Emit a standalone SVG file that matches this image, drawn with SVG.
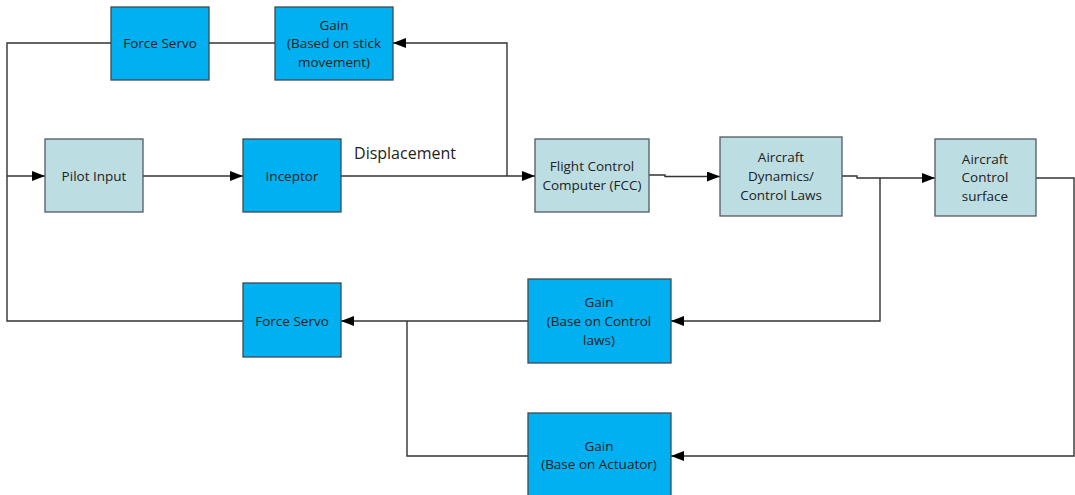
<svg xmlns="http://www.w3.org/2000/svg" width="1075" height="495" viewBox="0 0 1075 495">
<style>
.blue{fill:#00b0f0;stroke:#3f4a52;stroke-width:1.3}
.grey{fill:#bcdee2;stroke:#505a60;stroke-width:1.3}
text{font-family:"Open Sans","Noto Sans","Liberation Sans",sans-serif;font-size:13.5px;fill:#222;text-anchor:middle;dominant-baseline:central}
.w{fill:none;stroke:#333;stroke-width:1.4}
.a{marker-end:url(#arr)}
</style>
<defs>
<marker id="arr" viewBox="0 0 13 10" refX="13" refY="5" markerWidth="13" markerHeight="10" markerUnits="userSpaceOnUse" orient="auto">
<path d="M0,0 L13,5 L0,10 Z" fill="#000"/>
</marker>
</defs>
<g id="connectors">
<polyline class="w" points="111,43 7,43 7,321 243,321"/>
<line class="w a" x1="7" y1="176" x2="45" y2="176"/>
<line class="w a" x1="143" y1="176" x2="243" y2="176"/>
<line class="w a" x1="341" y1="176" x2="535" y2="176"/>
<polyline class="w a" points="507,176 507,43 393,43"/>
<line class="w" x1="275" y1="43" x2="209" y2="43"/>
<polyline class="w a" points="649,175 665,175 665,176.5 720,176.5"/>
<polyline class="w a" points="842,176 857,176 857,178 935,178"/>
<polyline class="w a" points="880,178 880,321 671,321"/>
<line class="w a" x1="528" y1="321" x2="341" y2="321"/>
<polyline class="w a" points="1036,178 1074,178 1074,456 671,456"/>
<polyline class="w" points="528,456 407,456 407,321"/>
<text x="405" y="153" style="font-size:16px">Displacement</text>
</g>
<g id="force-servo-top">
<rect class="blue" x="111" y="7" width="98" height="73"/>
<text x="160" y="43">Force Servo</text>
</g>
<g id="gain-stick">
<rect class="blue" x="275" y="7" width="118" height="73"/>
<text x="334" y="25">Gain</text>
<text x="334" y="43">(Based on stick</text>
<text x="334" y="62">movement)</text>
</g>
<g id="pilot-input">
<rect class="grey" x="45" y="139" width="98" height="73"/>
<text x="94" y="176">Pilot Input</text>
</g>
<g id="inceptor">
<rect class="blue" x="243" y="139" width="98" height="73"/>
<text x="292" y="176">Inceptor</text>
</g>
<g id="fcc">
<rect class="grey" x="535" y="139" width="114" height="73"/>
<text x="592" y="166">Flight Control</text>
<text x="592" y="185">Computer (FCC)</text>
</g>
<g id="aircraft-dynamics">
<rect class="grey" x="720" y="137" width="122" height="79"/>
<text x="781" y="157">Aircraft</text>
<text x="781" y="176">Dynamics/</text>
<text x="781" y="195">Control Laws</text>
</g>
<g id="aircraft-control-surface">
<rect class="grey" x="935" y="139" width="101" height="77"/>
<text x="985" y="159">Aircraft</text>
<text x="985" y="177">Control</text>
<text x="985" y="196">surface</text>
</g>
<g id="force-servo-bottom">
<rect class="blue" x="243" y="283" width="98" height="74"/>
<text x="292" y="321">Force Servo</text>
</g>
<g id="gain-control-laws">
<rect class="blue" x="528" y="279" width="143" height="84"/>
<text x="599" y="302">Gain</text>
<text x="599" y="321">(Base on Control</text>
<text x="599" y="340">laws)</text>
</g>
<g id="gain-actuator">
<rect class="blue" x="528" y="413" width="143" height="90"/>
<text x="599" y="446">Gain</text>
<text x="599" y="464">(Base on Actuator)</text>
</g>
</svg>
